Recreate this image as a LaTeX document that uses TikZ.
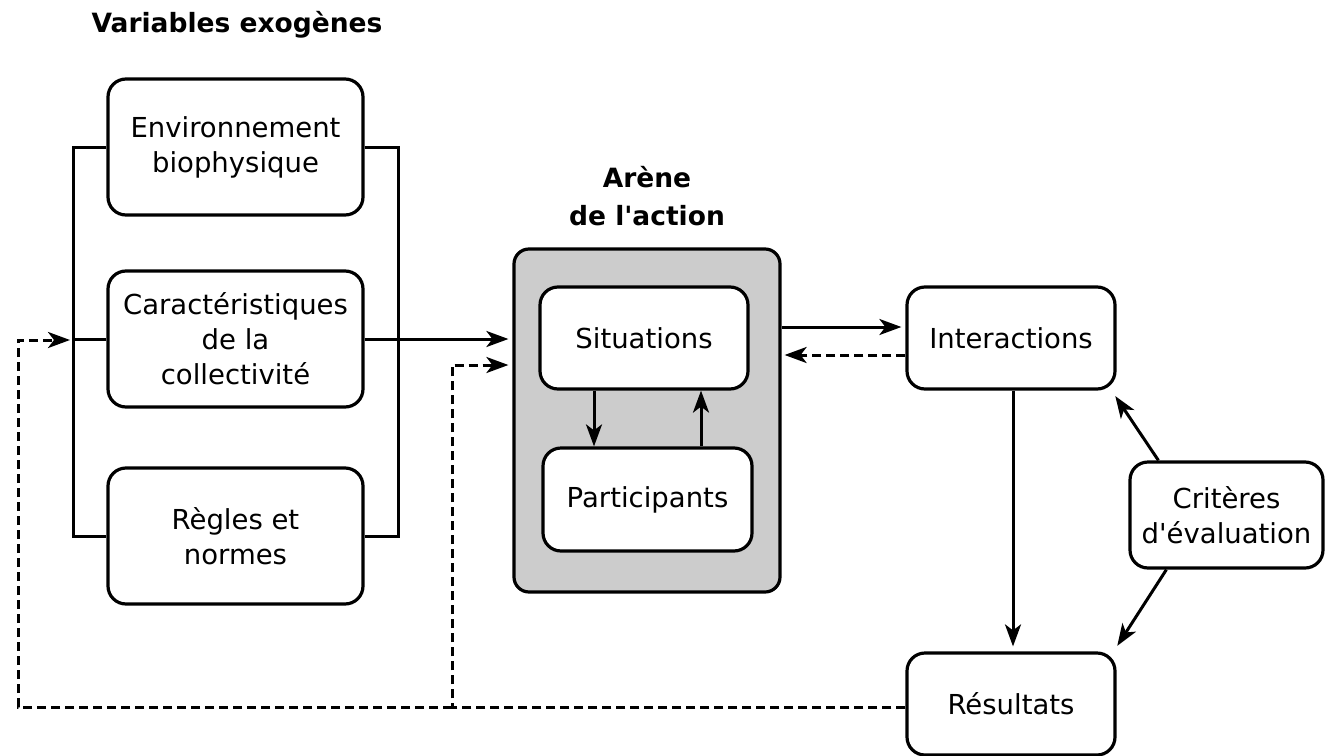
\documentclass[tikz,border=0pt]{standalone}
\usepackage{fontspec}
\setmainfont{DejaVu Sans}
\usetikzlibrary{arrows.meta}
\begin{document}
\begin{tikzpicture}[x=1pt,y=-1pt,
  every node/.style={font=\fontsize{27.5}{35}\selectfont, align=center},
  box/.style={draw, line width=3.2pt, rounded corners=18pt, fill=white, inner sep=0pt},
  ttl/.style={font=\fontsize{26.5}{38}\selectfont\bfseries},
  ln/.style={line width=3pt},
  arr/.style={line width=3pt, -{Stealth[length=22pt,width=16pt,inset=6pt]}},
  fb/.style={arr, dash pattern=on 9pt off 5pt}]
\useasboundingbox (0,0) rectangle (1325,755);
\node[ttl] (title) at (237,25) {Variables exogènes};
\node[box, minimum width=255pt, minimum height=136pt] (b1) at (235.5,147) {Environnement\\biophysique};
\node[box, minimum width=255pt, minimum height=136pt] (b2) at (235.5,339) {Caractéristiques\\de la\\collectivité};
\node[box, minimum width=255pt, minimum height=136pt] (b3) at (235.5,536) {Règles et\\normes};
\node[ttl, align=center] (arenat) at (647,196) {Arène\\de l\textquotesingle action};
\node[draw, line width=3.2pt, rounded corners=15pt, fill=black!20, minimum width=266pt, minimum height=343pt] (arena) at (647,420.5) {};
\node[box, minimum width=208pt, minimum height=102pt] (sit) at (644,338) {Situations};
\node[box, minimum width=209pt, minimum height=103pt] (par) at (647.5,499.5) {Participants};
\node[box, minimum width=208pt, minimum height=102pt] (int) at (1011,338) {Interactions};
\node[box, minimum width=208pt, minimum height=102pt] (res) at (1011,704) {Résultats};
\node[box, minimum width=193pt, minimum height=106pt] (crit) at (1226.5,515) {Critères\\d\textquotesingle évaluation};
% brackets
\coordinate (lb) at (73,0);
\coordinate (rb) at (398,0);
\draw[ln] (b1.west) -- (b1.west -| lb) -- (b3.west -| lb) -- (b3.west);
\draw[ln] (b2.west) -- (b2.west -| lb);
\draw[ln] (b1.east) -- (b1.east -| rb) -- (b3.east -| rb) -- (b3.east);
\draw[arr, shorten >=4pt] (b2.east) -- (b2.east -| arena.west);
% inner arrows
\draw[arr] (sit.south -| 594,0) -- (par.north -| 594,0);
\draw[arr] (par.north -| 701,0) -- (sit.south -| 701,0);
% arena <-> interactions
\draw[arr, shorten >=4pt] (arena.east |- 0,327) -- (int.west |- 0,327);
\draw[fb, shorten >=3pt] (int.west |- 0,355) -- (arena.east |- 0,355);
% interactions -> results
\draw[arr, shorten >=5pt] (int.south -| 1013,0) -- (res.north -| 1013,0);
% criteria
\draw[arr, shorten >=3pt] ([xshift=30pt]crit.north west) -- ([shift={(-3,3)}]int.south east);
\draw[arr, shorten >=3pt] ([xshift=38pt]crit.south west) -- ([shift={(-1,-3)}]res.north east);
% feedback
\coordinate (fbm) at (452,365);
\coordinate (fbl) at (18,340);
\draw[fb, shorten >=4pt] (res.west |- 0,707) -- (fbm |- 0,707) -- (fbm) -- (fbm -| arena.west);
\draw[fb, shorten >=3pt] (fbm |- 0,707) -- (fbl |- 0,707) -- (fbl) -- (fbl -| lb);
\end{tikzpicture}
\end{document}
